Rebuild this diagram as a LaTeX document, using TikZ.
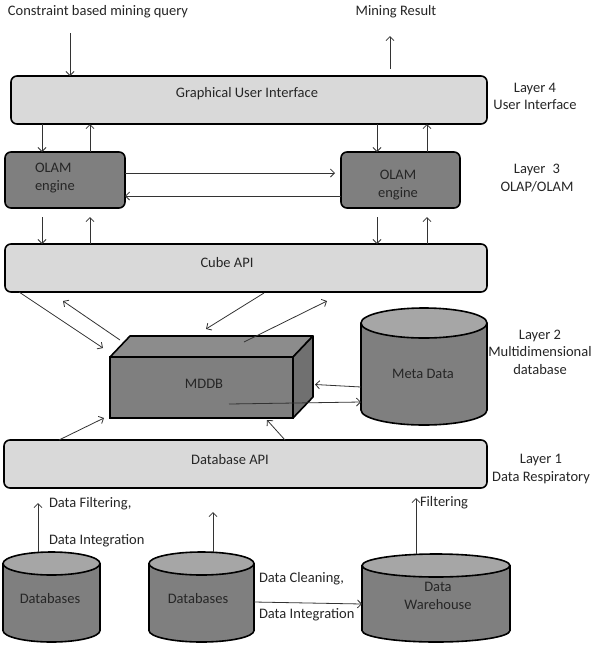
\documentclass[tikz,border=0pt]{standalone}
\usepackage{fontspec}
\setmainfont{Carlito}
\usetikzlibrary{arrows.meta,calc}
\definecolor{lightbox}{HTML}{D9D9D9}
\definecolor{darkbox}{HTML}{7F7F7F}
\definecolor{cyltopc}{HTML}{A6A6A6}
\definecolor{mddbtop}{HTML}{8C8C8C}
\definecolor{mddbside}{HTML}{707070}
\definecolor{txtc}{HTML}{262626}
\newcommand\mycyl[5]{% cx, cy, w, h, ry
  \filldraw[cyledge, fill=darkbox] (#1,{#2+#4/2-#5}) ellipse[x radius={#3/2}, y radius={#5}];
  \fill[darkbox] ({#1-#3/2},{#2-#4/2+#5}) rectangle ({#1+#3/2},{#2+#4/2-#5});
  \draw[cyledge] ({#1-#3/2},{#2-#4/2+#5}) -- ({#1-#3/2},{#2+#4/2-#5});
  \draw[cyledge] ({#1+#3/2},{#2-#4/2+#5}) -- ({#1+#3/2},{#2+#4/2-#5});
  \filldraw[cyledge, fill=cyltopc] (#1,{#2-#4/2+#5}) ellipse[x radius={#3/2}, y radius={#5}];
}
\begin{document}
\begin{tikzpicture}[x=1pt,y=-1pt,
  font=\fontsize{14.5}{17.5}\selectfont,
  lbox/.style={draw=black, line width=1.6pt, fill=lightbox, rounded corners=6pt, outer sep=0pt, inner sep=0pt},
  dbox/.style={draw=black, line width=1.6pt, fill=darkbox, rounded corners=6pt, outer sep=0pt, inner sep=0pt},
  cubeface/.style={draw=black, line width=1.6pt, line join=round},
  cylbox/.style={inner sep=0pt, outer sep=0pt},
  cyledge/.style={draw=black, line width=1.6pt},
  arr/.style={-{Straight Barb[length=4pt,width=8pt]}, line width=0.8pt, draw=black!80},
  lbl/.style={text=txtc, inner sep=0pt, outer sep=0pt},
  side/.style={lbl, align=center}]
\useasboundingbox (0,0) rectangle (599,649);
\fill[white] (0,0) rectangle (599,649);

% boxes
\node[lbox, minimum width=476pt, minimum height=48pt] (gui) at (249,100) {};
\node[dbox, minimum width=120pt, minimum height=56pt] (olamL) at (65,180) {};
\node[dbox, minimum width=119pt, minimum height=56pt] (olamR) at (400.5,180) {};
\node[lbox, minimum width=482pt, minimum height=48pt] (cube) at (246,268) {};
\node[lbox, minimum width=483pt, minimum height=48pt] (dbapi) at (245.5,464) {};

% MDDB 3D box
\node[draw=black, line width=1.6pt, fill=darkbox, minimum width=183pt, minimum height=61pt, inner sep=0pt, outer sep=0pt] (mddb) at (201.5,387.5) {};
\filldraw[cubeface, fill=mddbtop] (mddb.north west) -- ++(20,-21) -- ++(183,0) -- (mddb.north east) -- cycle;
\filldraw[cubeface, fill=mddbside] (mddb.north east) -- ++(20,-21) -- ++(0,61) -- (mddb.south east) -- cycle;
\node[lbl] (mddbt) at (204,384) {MDDB};

% cylinders
\mycyl{424}{366.5}{126}{117}{15}
\node[cylbox, minimum width=126pt, minimum height=117pt] (meta) at (424,366.5) {};
\mycyl{51.5}{597}{97}{90}{11.5}
\node[cylbox, minimum width=97pt, minimum height=90pt] (db1) at (51.5,597) {};
\mycyl{201.5}{597}{105}{90}{11.5}
\node[cylbox, minimum width=105pt, minimum height=90pt] (db2) at (201.5,597) {};
\mycyl{436}{598}{148}{88}{11.5}
\node[cylbox, minimum width=148pt, minimum height=88pt] (wh) at (436,598) {};

% texts
\node[lbl, anchor=west] (query) at (8,12) {Constraint based mining query};
\node[lbl] (result) at (396,12) {Mining Result};
\node[lbl] (guit) at (247,94) {Graphical User Interface};
\node[lbl, align=left, anchor=west] (olamLt) at (35,178) {OLAM\\engine};
\node[lbl, align=center] (olamRt) at (398,185) {OLAM\\engine};
\node[lbl] (cubet) at (227,263) {Cube API};
\node[lbl] (metat) at (423,374) {Meta Data};
\node[lbl] (dbapit) at (230,460) {Database API};
\node[lbl] (db1t) at (50,599) {Databases};
\node[lbl] (db2t) at (198,599) {Databases};
\node[lbl, align=center] (wht) at (438,596) {Data\\Warehouse};
\node[side] (layer4) at (535,96.5) {Layer 4\\User Interface};
\node[side] (layer3) at (537,178) {Layer\hspace{0.5em}3\\OLAP/OLAM};
\node[side] (layer2) at (540,352) {Layer 2\\Multidimensional\\database};
\node[side] (layer1) at (541,469) {Layer 1\\Data Respiratory};
\node[lbl, anchor=west] (filt1) at (49,504) {Data Filtering,};
\node[lbl, anchor=west] (integ1) at (49,541) {Data Integration};
\node[lbl, anchor=west] (filt3) at (420,503) {Filtering};
\node[lbl, anchor=west] (clean2) at (259,579) {Data Cleaning,};
\node[lbl, anchor=west] (integ2) at (259,615) {Data Integration};

% free ends
\coordinate (q) at (70,33);
\coordinate (r1) at (390,36);
\coordinate (f1) at (38,503);
\coordinate (f2) at (213,512);
\coordinate (f3) at (416,498);

% top arrows
\draw[arr] (q) -- (gui.north -| q);
\draw[arr, shorten <=7pt] (gui.north -| r1) -- (r1);

% GUI <-> OLAM
\draw[arr] (gui.south -| 42,0) -- (olamL.north -| 42,0);
\draw[arr] (olamL.north -| 90,0) -- (gui.south -| 90,0);
\draw[arr] (gui.south -| 377,0) -- (olamR.north -| 377,0);
\draw[arr] (olamR.north -| 427,0) -- (gui.south -| 427,0);

% OLAM <-> OLAM
\draw[arr, shorten >=6pt] (olamL.east |- 0,173) -- (olamR.west |- 0,173);
\draw[arr] (olamR.west |- 0,196) -- (olamL.east |- 0,196);

% OLAM <-> Cube
\draw[arr, shorten <=9pt] (olamL.south -| 42,0) -- (cube.north -| 42,0);
\draw[arr, shorten >=9pt] (cube.north -| 90,0) -- (olamL.south -| 90,0);
\draw[arr, shorten <=9pt] (olamR.south -| 377,0) -- (cube.north -| 377,0);
\draw[arr, shorten >=9pt] (cube.north -| 427,0) -- (olamR.south -| 427,0);

% Cube <-> MDDB
\draw[arr] ($(cube.south west)+(14,0)$) -- ($(mddb.north west)+(-7,-9)$);
\draw[arr] ($(mddb.north west)+(10,-17)$) -- ($(cube.south west)+(58,9)$);
\draw[arr] ($(cube.south west)+(259,1)$) -- ($(mddb.north west)+(96,-28)$);
\draw[arr] ($(mddb.north west)+(134,-15)$) -- ($(cube.south west)+(322,9)$);

% MDDB <-> Meta
\draw[arr] ($(mddb.south west)+(119,-14)$) -- (meta.west |- 0,402);
\draw[arr] (meta.west |- 0,387) -- ($(mddb.east)+(22,-3)$);

% DB API -> MDDB
\draw[arr] ($(dbapi.north west)+(55,0)$) -- ($(mddb.south west)+(-6,0)$);
\draw[arr] ($(dbapi.north west)+(281,0)$) -- ($(mddb.south west)+(157,2)$);

% bottom
\draw[arr] (db1.north -| f1) -- (f1);
\draw[arr] (db2.north -| f2) -- (f2);
\draw[arr] (wh.north -| f3) -- (f3);
\draw[arr] (db2.east |- 0,602) -- (wh.west |- 0,604);
\end{tikzpicture}
\end{document}
